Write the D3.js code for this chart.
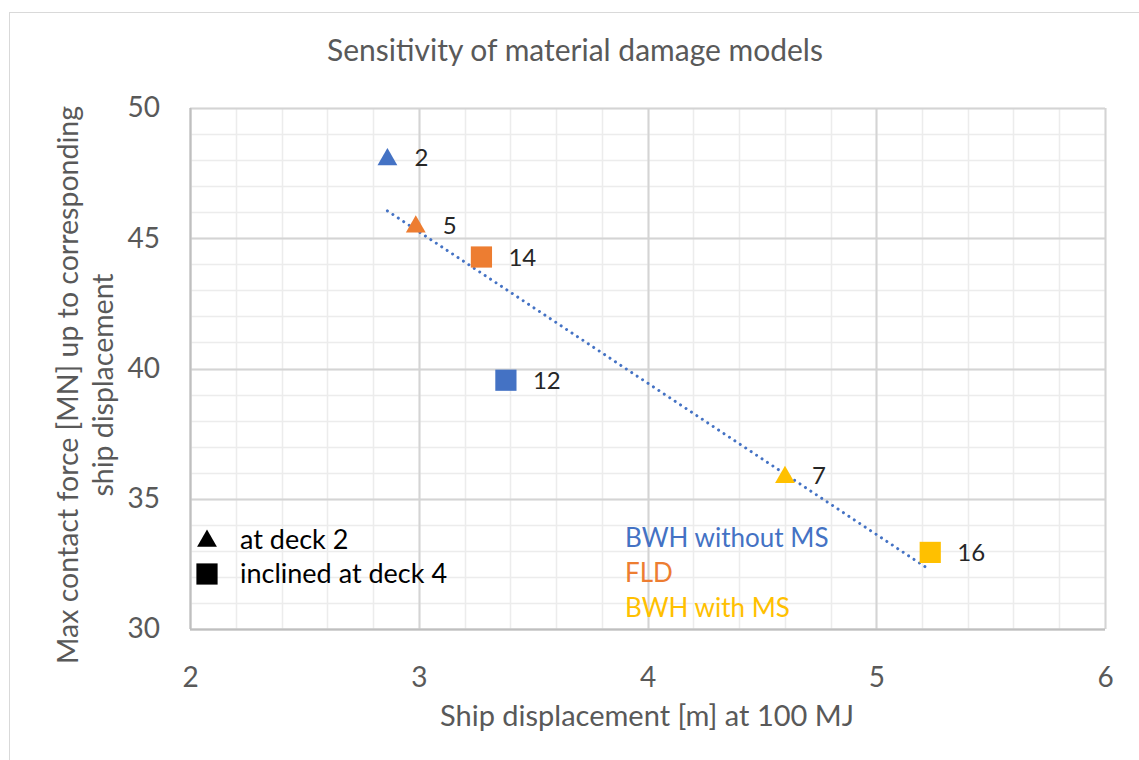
<!DOCTYPE html>
<html>
<head>
<meta charset="utf-8">
<script src="https://cdn.jsdelivr.net/npm/d3@7"></script>
<style>
  body { margin: 0; background: #fff; }
  svg text { font-family: Lato, "Open Sans", sans-serif; }
</style>
</head>
<body>
<div id="chart"></div>
<script>
// point data
var pointLabels = ["2", "5", "14", "12", "7", "16"];
var displacement = [2.863, 2.987, 3.274, 3.381, 4.601, 5.236];
var contactForce = [48.1, 45.52, 44.28, 39.55, 35.9, 32.94];
var pointModel = ["BWH without MS", "FLD", "FLD", "BWH without MS", "BWH with MS", "BWH with MS"];
var pointShape = ["triangle", "triangle", "square", "square", "triangle", "square"];

var modelNames = ["BWH without MS", "FLD", "BWH with MS"];
var modelColors = ["#4472C4", "#ED7D31", "#FFC000"];

var shapeNames = ["triangle", "square"];
var shapeLabels = ["at deck 2", "inclined at deck 4"];

var xTicks = [2, 3, 4, 5, 6];
var yTicks = [30, 35, 40, 45, 50];

var width = 1139, height = 760;
var margin = {left: 190, right: 34, top: 108, bottom: 131};

var svg = d3.select("#chart").append("svg")
    .attr("width", width)
    .attr("height", height);

// chart frame
svg.append("rect")
    .attr("x", 9.5).attr("y", 12.5)
    .attr("width", 1140).attr("height", 760)
    .style("fill", "none")
    .style("stroke", "#d9d9d9");

var x = d3.scaleLinear().domain([2, 6]).range([margin.left, width - margin.right]);
var y = d3.scaleLinear().domain([30, 50]).range([height - margin.bottom, margin.top]);

var color = d3.scaleOrdinal().domain(modelNames).range(modelColors);

var grid = svg.append("g");

// minor grid
grid.selectAll(".xminor")
    .data(d3.range(2, 6.001, 0.2))
    .enter().append("line")
    .attr("x1", function(d){ return Math.round(x(d)) + 0.5; })
    .attr("x2", function(d){ return Math.round(x(d)) + 0.5; })
    .attr("y1", y(30)).attr("y2", y(50))
    .style("stroke", "#ececec").style("stroke-width", 1.5);

grid.selectAll(".yminor")
    .data(d3.range(30, 50.001, 1))
    .enter().append("line")
    .attr("y1", function(d){ return Math.round(y(d)) + 0.5; })
    .attr("y2", function(d){ return Math.round(y(d)) + 0.5; })
    .attr("x1", x(2)).attr("x2", x(6))
    .style("stroke", "#ececec").style("stroke-width", 1.5);

// major grid
grid.selectAll(".xmajor")
    .data(xTicks)
    .enter().append("line")
    .attr("x1", function(d){ return Math.round(x(d)) + 0.5; })
    .attr("x2", function(d){ return Math.round(x(d)) + 0.5; })
    .attr("y1", y(30)).attr("y2", y(50))
    .style("stroke", "#d4d4d4").style("stroke-width", 2);

grid.selectAll(".ymajor")
    .data(yTicks)
    .enter().append("line")
    .attr("y1", function(d){ return Math.round(y(d)) + 0.5; })
    .attr("y2", function(d){ return Math.round(y(d)) + 0.5; })
    .attr("x1", x(2)).attr("x2", x(6))
    .style("stroke", "#d4d4d4").style("stroke-width", 2);

// axes, labels only
var xAxis = svg.append("g")
    .attr("transform", "translate(0," + y(30) + ")")
    .call(d3.axisBottom(x).tickValues(xTicks).tickFormat(d3.format("d")).tickSize(0).tickPadding(38));
var yAxis = svg.append("g")
    .attr("transform", "translate(" + x(2) + ",0)")
    .call(d3.axisLeft(y).tickValues(yTicks).tickFormat(d3.format("d")).tickSize(0).tickPadding(30));

[xAxis, yAxis].forEach(function(a){
    a.select(".domain").remove();
    a.selectAll("text")
        .style("font-family", "Lato, sans-serif")
        .style("font-size", "28px")
        .style("fill", "#595959");
});

// axis lines
svg.append("line")
    .attr("x1", x(2)).attr("x2", x(6))
    .attr("y1", y(30) + 0.5).attr("y2", y(30) + 0.5)
    .style("stroke", "#bfbfbf").style("stroke-width", 2);
svg.append("line")
    .attr("x1", x(2) + 0.5).attr("x2", x(2) + 0.5)
    .attr("y1", y(30)).attr("y2", y(50))
    .style("stroke", "#bfbfbf").style("stroke-width", 2);

// title
svg.append("text")
    .attr("x", 575).attr("y", 61)
    .attr("text-anchor", "middle")
    .style("font-size", "30px")
    .style("fill", "#595959")
    .text("Sensitivity of material damage models");

// x title
svg.append("text")
    .attr("x", 647).attr("y", 726)
    .attr("text-anchor", "middle")
    .style("font-size", "29px")
    .style("fill", "#595959")
    .text("Ship displacement [m] at 100 MJ");

// y title
var yTitle = svg.append("text")
    .attr("transform", "translate(78,385) rotate(-90)")
    .attr("text-anchor", "middle")
    .style("font-size", "28.5px")
    .style("fill", "#595959");
yTitle.append("tspan").attr("x", 0).attr("dy", 0).text("Max contact force [MN] up to corresponding");
yTitle.append("tspan").attr("x", 0).attr("dy", 35).text("ship displacement");

// linear trendline over all points
var meanX = d3.mean(displacement), meanY = d3.mean(contactForce);
var sxy = d3.sum(displacement, function(d, i){ return (d - meanX) * (contactForce[i] - meanY); });
var sxx = d3.sum(displacement, function(d){ return (d - meanX) * (d - meanX); });
var slope = sxy / sxx;
var intercept = meanY - slope * meanX;
var trendX = d3.extent(displacement);

svg.append("path")
    .datum(trendX)
    .attr("d", d3.line()
        .x(function(d){ return x(d); })
        .y(function(d){ return y(intercept + slope * d); }))
    .style("fill", "none")
    .style("stroke", "#4472C4")
    .style("stroke-width", 3)
    .style("stroke-linecap", "round")
    .style("stroke-dasharray", "0.01 6.5");

var triangle = d3.symbol().type(d3.symbolTriangle).size(170);
var square = d3.symbol().type(d3.symbolSquare).size(450);

var shapePath = function(s){ return s == "triangle" ? triangle() : square(); };

// markers
var points = svg.append("g");
points.selectAll(".pt")
    .data(pointLabels)
    .enter().append("path")
    .attr("class", "pt")
    .attr("transform", function(d, i){
        var dy = pointShape[i] == "triangle" ? 2 : 0;
        return "translate(" + x(displacement[i]) + "," + (y(contactForce[i]) + dy) + ")";
    })
    .attr("d", function(d, i){ return shapePath(pointShape[i]); })
    .style("fill", function(d, i){ return color(pointModel[i]); });

points.selectAll(".lbl")
    .data(pointLabels)
    .enter().append("text")
    .attr("class", "lbl")
    .attr("x", function(d, i){ return x(displacement[i]) + 27; })
    .attr("y", function(d, i){ return y(contactForce[i]) + 9; })
    .style("font-size", "24px")
    .style("fill", "#262626")
    .text(function(d){ return d; });

// shape legend
var shapeLegend = svg.append("g").attr("transform", "translate(207,540)");
shapeLegend.selectAll("path")
    .data(shapeNames)
    .enter().append("path")
    .attr("transform", function(d, i){ return "translate(0," + (i * 34 + (d == "triangle" ? 1 : 0)) + ")"; })
    .attr("d", function(d){ return shapePath(d); })
    .style("fill", "#000");
shapeLegend.selectAll("text")
    .data(shapeLabels)
    .enter().append("text")
    .attr("x", 33)
    .attr("y", function(d, i){ return i * 34 + 9; })
    .style("font-size", "27px")
    .style("fill", "#000")
    .text(function(d){ return d; });

// model legend
svg.append("g").selectAll("text")
    .data(modelNames)
    .enter().append("text")
    .attr("x", 625)
    .attr("y", function(d, i){ return 547 + i * 35; })
    .style("font-size", "26px")
    .style("fill", function(d){ return color(d); })
    .text(function(d){ return d; });
</script>
</body>
</html>
